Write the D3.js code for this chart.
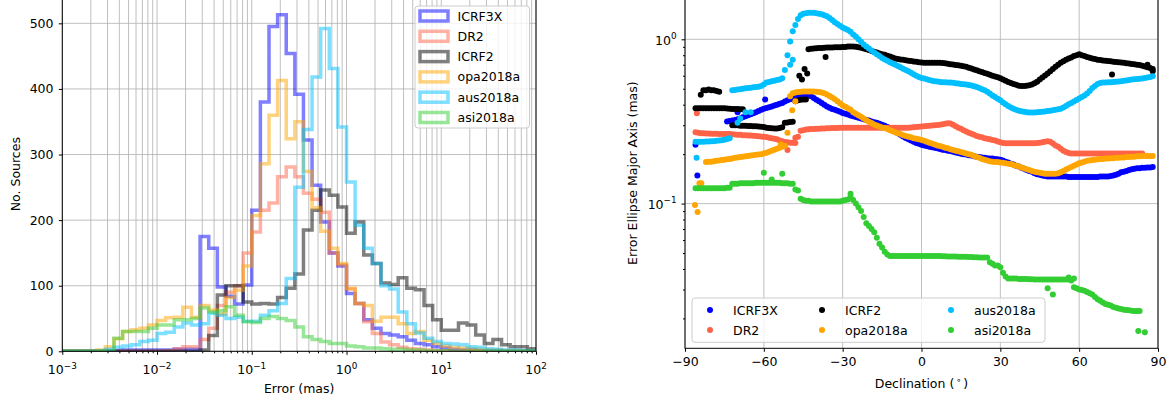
<!DOCTYPE html>
<html>
<head>
<meta charset="utf-8">
<script src="https://cdn.jsdelivr.net/npm/d3@7"></script>
<style>
body { margin: 0; background: #fff; }
svg text { font-family: "DejaVu Sans", sans-serif; fill: #000; }
</style>
</head>
<body>
<script>
// ---- data -----------------------------------------------------------
var seriesNames = ["ICRF3X", "DR2", "ICRF2", "opa2018a", "aus2018a", "asi2018a"];

// left panel: counts in 55 log bins from 1e-3 to 1e2 mas
var cntICRF3X = [0,0,0,0,0,0,1,2,2,2, 2,2,2,3,3,3,175,157,98,84, 72,101,215,380,495,513,454,392,322,253,
                 197,150,130,88,73,48,35,27,25,22, 17,12,10,7,5,3,2,2,1,1, 1,0,0,0,0];
var cntDR2    = [0,0,0,0,0,0,0,0,0,0, 0,0,1,4,7,7,18,35,70,90, 100,150,182,215,226,266,281,266,241,232,
                 212,150,132,95,73,45,27,14,10,6, 4,3,2,1,1,0,0,0,0,0, 0,0,0,0,0];
var cntICRF2  = [0,0,0,0,0,0,0,0,0,0, 0,0,0,0,0,0,2,24,86,100, 100,75,72,73,72,82,96,118,185,215,
                 246,238,220,180,197,147,134,104,102,112, 96,94,70,48,32,32,43,40,25,12, 18,10,7,7,4];
var cntOpa    = [0,0,0,0,2,7,19,30,33,35, 40,47,51,52,67,52,70,63,57,82, 93,130,207,286,360,413,324,350,274,219,
                 183,157,134,96,73,70,46,52,52,42, 27,30,17,12,8,6,5,4,3,2, 2,1,1,0,0];
var cntAus    = [0,0,0,0,0,3,6,8,10,15, 17,27,29,37,43,40,42,58,55,50, 52,46,46,55,62,73,111,250,338,418,
                 492,431,342,258,192,157,134,100,95,60, 42,28,20,15,12,11,10,7,6,4, 3,2,2,1,1];
var cntAsi    = [0,0,0,0,0,0,20,30,30,30, 35,40,40,48,48,50,66,60,62,68, 55,45,44,50,53,50,47,37,22,18,
                 15,12,12,8,7,5,5,4,3,3, 2,2,1,1,1,0,0,0,0,0, 0,0,0,0,0];

// right panel: error ellipse major axis (mas) against declination (deg)
var decl = [-86,-85,-84,-83,-82,-81,-80,-79,-78,-77,
            -76,-75,-74,-73,-72,-71,-70,-69,-68,-67,
            -66,-65,-64,-63,-62,-61,-60,-59,-58,-57,
            -56,-55,-54,-53,-52,-51,-50,-49,-48,-47,
            -46,-45,-44,-43,-42,-41,-40,-39,-38,-37,
            -36,-35,-34,-33,-32,-31,-30,-29,-28,-27,
            -26,-25,-24,-23,-22,-21,-20,-19,-18,-17,
            -16,-15,-14,-13,-12,-11,-10,-9,-8,-7,
            -6,-5,-4,-3,-2,-1,0,1,2,3,
            4,5,6,7,8,9,10,11,12,13,
            14,15,16,17,18,19,20,21,22,23,
            24,25,26,27,28,29,30,31,32,33,
            34,35,36,37,38,39,40,41,42,43,
            44,45,46,47,48,49,50,51,52,53,
            54,55,56,57,58,59,60,61,62,63,
            64,65,66,67,68,69,70,71,72,73,
            74,75,76,77,78,79,80,81,82,83,
            84,85,86,87,88];
var errICRF3X = [0.228,null,null,null,null,null,null,null,null,null,
                 null,null,0.316,0.318,0.32,0.323,0.326,0.33,0.335,0.34,
                 0.345,0.35,0.355,0.36,0.366,0.372,0.378,0.382,0.386,0.39,
                 0.395,0.40,0.405,0.41,0.418,0.425,0.432,0.44,0.445,0.448,
                 0.452,0.455,0.458,0.455,0.45,0.44,0.428,0.42,0.41,0.40,
                 0.39,0.383,0.377,0.372,0.367,0.362,0.356,0.352,0.348,0.344,
                 0.34,0.336,0.333,0.33,0.326,0.323,0.32,0.316,0.313,0.31,
                 0.306,0.302,0.298,0.293,0.287,0.281,0.275,0.268,0.262,0.256,
                 0.251,0.246,0.242,0.238,0.234,0.231,0.228,0.226,0.224,0.222,
                 0.22,0.219,0.217,0.215,0.213,0.212,0.21,0.209,0.207,0.205,
                 0.203,0.201,0.2,0.199,0.197,0.196,0.194,0.193,0.192,0.191,
                 0.19,0.189,0.188,0.188,0.187,0.186,0.185,0.183,0.18,0.178,
                 0.175,0.173,0.17,0.168,0.165,0.163,0.16,0.158,0.156,0.153,
                 0.151,0.15,0.148,0.147,0.146,0.146,0.146,0.146,0.146,0.146,
                 0.146,0.146,0.145,0.145,0.145,0.145,0.145,0.145,0.145,0.145,
                 0.145,0.145,0.145,0.145,0.146,0.146,0.146,0.146,0.147,0.148,
                 0.15,0.152,0.155,0.156,0.158,0.16,0.162,0.163,0.164,0.164,
                 0.165,0.165,0.166,0.166,0.167];
var errDR2 = [0.272,0.27,0.268,0.268,0.267,0.267,0.266,0.266,0.266,0.265,
              0.265,0.265,0.265,0.265,0.264,0.263,0.262,0.262,0.261,0.261,
              0.26,0.26,0.259,0.258,0.257,0.256,0.255,0.254,0.252,0.25,
              0.248,0.246,0.242,0.24,0.237,0.236,0.235,0.235,0.234,0.255,
              0.278,0.28,0.282,0.283,0.284,0.284,0.285,0.285,0.286,0.286,
              0.287,0.287,0.288,0.288,0.288,0.289,0.29,0.29,0.29,0.29,
              0.29,0.29,0.29,0.29,0.29,0.29,0.29,0.29,0.29,0.29,
              0.29,0.29,0.29,0.29,0.29,0.29,0.29,0.29,0.29,0.29,
              0.29,0.29,0.291,0.292,0.293,0.294,0.295,0.296,0.297,0.298,
              0.299,0.3,0.301,0.302,0.304,0.306,0.308,0.307,0.302,0.296,
              0.29,0.285,0.28,0.275,0.27,0.266,0.262,0.258,0.255,0.253,
              0.25,0.248,0.246,0.244,0.242,0.239,0.236,0.234,0.233,0.233,
              0.233,0.233,0.233,0.233,0.233,0.233,0.233,0.233,0.233,0.233,
              0.234,0.235,0.236,0.238,0.24,0.238,0.232,0.226,0.222,0.216,
              0.21,0.206,0.203,0.202,0.202,0.202,0.202,0.202,0.202,0.202,
              0.202,0.202,0.202,0.202,0.202,0.202,0.202,0.202,0.202,0.202,
              0.202,0.202,0.202,0.202,0.202,0.202,0.202,0.202,0.202,0.202,
              0.202,null,null,null,null];
var errICRF2 = [0.38,0.38,0.38,0.38,0.38,0.38,0.38,0.38,0.38,0.38,
                0.38,0.38,0.379,0.378,0.377,0.377,0.376,0.375,0.375,0.298,
                0.297,0.297,0.296,0.296,0.295,0.294,0.293,0.29,0.288,0.287,
                0.286,0.286,0.288,0.292,0.31,0.312,0.314,0.315,0.42,0.425,
                0.428,0.43,0.43,0.87,0.875,0.88,0.882,0.884,0.886,0.888,
                0.89,0.89,0.892,0.894,0.895,0.896,0.897,0.898,0.905,0.905,
                0.905,0.9,0.895,0.888,0.88,0.87,0.86,0.85,0.84,0.83,
                0.82,0.812,0.805,0.795,0.785,0.775,0.765,0.758,0.754,0.75,
                0.745,0.74,0.737,0.733,0.73,0.726,0.723,0.72,0.72,0.72,
                0.72,0.72,0.72,0.72,0.718,0.714,0.71,0.706,0.702,0.698,
                0.694,0.69,0.686,0.68,0.672,0.664,0.656,0.648,0.64,0.632,
                0.624,0.616,0.608,0.6,0.593,0.587,0.58,0.57,0.56,0.55,
                0.542,0.535,0.528,0.522,0.52,0.52,0.522,0.525,0.53,0.54,
                0.552,0.569,0.585,0.603,0.62,0.64,0.66,0.68,0.70,0.72,
                0.735,0.75,0.765,0.775,0.79,0.80,0.81,0.80,0.79,0.78,
                0.772,0.765,0.758,0.752,0.748,0.744,0.74,0.737,0.734,0.731,
                0.728,0.725,0.722,0.72,0.716,0.712,0.708,0.704,0.70,0.697,
                0.69,0.683,0.676,0.668,0.66];
var errOpa = [null,null,null,null,0.179,0.18,0.18,0.181,0.182,0.183,
              0.184,0.185,0.186,0.187,0.188,0.19,0.191,0.192,0.193,0.194,
              0.195,0.196,0.197,0.198,0.199,0.2,0.202,0.204,0.207,0.21,
              0.213,0.216,0.219,0.222,0.225,0.27,0.45,0.47,0.475,0.478,
              0.48,0.482,0.482,0.482,0.482,0.481,0.48,0.478,0.475,0.47,
              0.462,0.452,0.442,0.432,0.42,0.408,0.396,0.388,0.38,0.372,
              0.36,0.352,0.345,0.338,0.33,0.322,0.315,0.309,0.303,0.299,
              0.295,0.291,0.288,0.284,0.28,0.276,0.272,0.268,0.265,0.261,
              0.258,0.255,0.253,0.25,0.248,0.246,0.244,0.241,0.238,0.235,
              0.232,0.229,0.226,0.224,0.222,0.219,0.217,0.214,0.212,0.21,
              0.208,0.206,0.204,0.202,0.2,0.198,0.195,0.192,0.19,0.187,
              0.185,0.183,0.181,0.18,0.179,0.179,0.178,0.177,0.176,0.175,
              0.174,0.172,0.17,0.168,0.166,0.164,0.162,0.16,0.158,0.156,
              0.155,0.154,0.153,0.152,0.152,0.152,0.152,0.152,0.153,0.155,
              0.158,0.161,0.164,0.167,0.17,0.173,0.176,0.178,0.18,0.182,
              0.183,0.184,0.185,0.186,0.187,0.187,0.188,0.188,0.189,0.189,
              0.19,0.19,0.191,0.191,0.192,0.192,0.193,0.193,0.194,0.194,
              0.195,0.195,0.195,0.195,0.195];
var errAus = [0.238,0.238,0.238,0.238,0.239,0.239,0.24,0.24,0.241,0.242,
              0.243,0.245,0.247,0.25,0.49,0.492,0.494,0.497,0.50,0.503,
              0.505,0.508,0.51,0.512,0.515,0.52,0.53,0.545,0.55,0.555,
              0.56,0.565,0.57,0.58,0.65,0.80,0.97,1.12,1.22,1.33,
              1.40,1.43,1.44,1.45,1.45,1.45,1.44,1.43,1.42,1.40,
              1.38,1.35,1.31,1.27,1.24,1.21,1.18,1.16,1.14,1.11,
              1.07,1.04,1.0,0.965,0.93,0.905,0.88,0.855,0.83,0.81,
              0.79,0.77,0.754,0.74,0.725,0.712,0.70,0.688,0.675,0.662,
              0.65,0.638,0.625,0.613,0.60,0.59,0.582,0.578,0.572,0.566,
              0.56,0.556,0.553,0.55,0.548,0.547,0.546,0.545,0.543,0.541,
              0.538,0.535,0.532,0.53,0.527,0.523,0.518,0.512,0.505,0.497,
              0.49,0.48,0.468,0.455,0.445,0.435,0.425,0.413,0.402,0.393,
              0.385,0.378,0.372,0.368,0.365,0.362,0.36,0.359,0.358,0.359,
              0.36,0.361,0.362,0.364,0.366,0.368,0.37,0.372,0.375,0.378,
              0.385,0.393,0.402,0.41,0.418,0.427,0.436,0.445,0.455,0.468,
              0.485,0.505,0.52,0.535,0.542,0.545,0.546,0.547,0.548,0.549,
              0.551,0.553,0.556,0.559,0.562,0.565,0.569,0.571,0.573,0.575,
              0.578,0.581,0.585,0.59,0.595];
var errAsi = [0.124,0.124,0.124,0.124,0.124,0.124,0.124,0.124,0.124,0.124,
              0.124,0.124,0.125,0.125,0.132,0.132,0.132,0.133,0.133,0.133,
              0.133,0.133,0.133,0.134,0.134,0.134,0.134,0.134,0.134,0.134,
              0.134,0.134,0.134,0.133,0.133,0.133,0.132,0.132,0.122,0.12,
              0.107,0.105,0.104,0.104,0.103,0.103,0.103,0.103,0.103,0.103,
              0.103,0.103,0.103,0.103,0.103,0.103,0.104,0.105,0.106,0.11,
              0.105,0.1,0.095,0.09,0.083,0.076,0.073,0.07,0.067,0.062,
              0.057,0.054,0.051,0.049,0.048,0.048,0.048,0.048,0.048,0.048,
              0.048,0.048,0.048,0.048,0.048,0.048,0.048,0.048,0.048,0.048,
              0.048,0.048,0.048,0.048,0.0478,0.0478,0.0477,0.0477,0.0476,0.0476,
              0.0475,0.0475,0.0474,0.0474,0.0473,0.0473,0.0472,0.0472,0.047,0.047,
              0.047,0.047,0.044,0.043,0.042,0.042,0.041,0.038,0.036,0.035,
              0.035,0.035,0.035,0.0348,0.0348,0.0347,0.0347,0.0346,0.0346,0.0345,
              0.0345,0.0345,0.0345,0.0345,0.0345,0.0345,0.0345,0.0345,0.0345,0.0345,
              0.0345,0.0345,0.0345,0.034,0.031,0.0305,0.03,0.0298,0.0295,0.029,
              0.0285,0.028,0.027,0.0262,0.0256,0.025,0.0245,0.0242,0.024,0.0235,
              0.0232,0.023,0.0228,0.0226,0.0225,0.0224,0.0223,0.0222,0.0222,0.0222,
              null,null,null,null,null];

// scattered points off the main bands
var oddSeries = [0,0,0, 1,1,1,1,
                 2,2,2,2,2,2,2,2, 2,2,2,2,2, 2,2,2,2,2,2,2,2,
                 3,3,3,3,3,3,3, 4,4,4,4,4,4,4, 5,5,5,5,5,5,5,5,5,5];
var oddDecl   = [-85.3,-59.5,-70, -85.5,-52,-51,-48,
                 -84,-83,-82,-81,-80,-79,-78,-77, -72,-71,-70,-69,-68, -46.5,-45.5,-44.5,-43.5,-36.5,72.5,86,88,
                 -86.2,-85.2,-84.5,-83.8,-53.5,-49.2,-48, -85.6,-70,-69,-67,-65,-50,-49,
                 -60,-53,-57,-27,48,50,56,58,82.5,85];
var oddErr    = [0.148,0.43,0.36, 0.355,0.228,0.212,0.252,
                 0.46,0.49,0.49,0.495,0.49,0.49,0.485,0.48, 0.30,0.30,0.30,0.298,0.298, 0.6,0.57,0.66,0.62,0.78,0.61,0.7,0.64,
                 0.098,0.089,0.133,0.133,0.23,0.37,0.42, 0.19,0.31,0.33,0.36,0.36,0.7,0.75,
                 0.154,0.152,0.14,0.115,0.0305,0.028,0.0355,0.035,0.0168,0.0165];

var histCounts = [cntICRF3X, cntDR2, cntICRF2, cntOpa, cntAus, cntAsi];
var errSeries = [errICRF3X, errDR2, errICRF2, errOpa, errAus, errAsi];
var histColors = ["#0000ff", "#ff6347", "#000000", "#ffa500", "#00bfff", "#32cd32"];
var dotColors = ["#0000ff", "#ff6347", "#000000", "#ffa500", "#00bfff", "#32cd32"];

var svg = d3.select("body")
   .append("svg")
   .attr("width", 1173)
   .attr("height", 403);

var gridColor = "#b0b0b0";
var fs = 12.5;

function supLabel(sel, base, exp, x, y, anchor) {
    var t = sel.append("text")
       .attr("x", x)
       .attr("y", y)
       .attr("text-anchor", anchor)
       .style("font-size", fs + "px");
    t.append("tspan").text(base);
    t.append("tspan").attr("dy", -5.5).style("font-size", "8.8px").text(exp);
}

// ---- left panel: histograms ----------------------------------------
var L = { left: 62.3, right: 536, top: -2.9, bottom: 351.3 };
var nBins = 55;
var binEdges = d3.range(nBins + 1).map(function(k) { return Math.pow(10, -3 + 5 * k / nBins); });

var xL = d3.scaleLog().domain([1e-3, 1e2]).range([L.left, L.right]);
var yL = d3.scaleLinear().domain([0, 540]).range([L.bottom, L.top]);

var left = svg.append("g");

var defs = svg.append("defs");
defs.append("clipPath").attr("id", "clipL")
  .append("rect")
   .attr("x", L.left).attr("y", L.top)
   .attr("width", L.right - L.left).attr("height", L.bottom - L.top);
defs.append("clipPath").attr("id", "clipR")
  .append("rect")
   .attr("x", 685).attr("y", -2)
   .attr("width", 473).attr("height", 350.3);

var majorX = [1e-3, 1e-2, 1e-1, 1, 10, 100];
var majorExp = ["\u22123", "\u22122", "\u22121", "0", "1", "2"];
var minorX = [];
[-3, -2, -1, 0, 1].forEach(function(d) {
    for (var m = 2; m <= 9; m++) minorX.push(m * Math.pow(10, d));
});

// grid
left.selectAll("line.gx")
  .data(majorX.concat(minorX))
 .enter().append("line")
  .attr("x1", function(d) { return xL(d); })
  .attr("x2", function(d) { return xL(d); })
  .attr("y1", L.top).attr("y2", L.bottom)
  .style("stroke", gridColor).style("stroke-width", 0.8);
left.selectAll("line.gy")
  .data(d3.range(0, 501, 100))
 .enter().append("line")
  .attr("x1", L.left).attr("x2", L.right)
  .attr("y1", function(d) { return yL(d); })
  .attr("y2", function(d) { return yL(d); })
  .style("stroke", gridColor).style("stroke-width", 0.8);

function stepPoints(counts) {
    var pts = [[binEdges[0], 0]];
    counts.forEach(function(c, i) {
        pts.push([binEdges[i], c]);
        pts.push([binEdges[i + 1], c]);
    });
    pts.push([binEdges[nBins], 0]);
    return pts;
}

var stepLine = d3.line()
   .x(function(d) { return xL(d[0]); })
   .y(function(d) { return yL(d[1]); });

left.append("g").attr("clip-path", "url(#clipL)")
  .selectAll("path")
  .data(histCounts)
 .enter().append("path")
  .attr("d", function(d) { return stepLine(stepPoints(d)); })
  .style("fill", "none")
  .style("stroke", function(d, i) { return histColors[i]; })
  .style("stroke-opacity", 0.5)
  .style("stroke-width", 3.5)
  .style("stroke-linejoin", "miter");

// axes
left.append("g")
  .attr("transform", "translate(0," + L.bottom + ")")
  .call(d3.axisBottom(xL).tickValues(majorX).tickSize(3.5).tickSizeOuter(0).tickFormat(""))
  .call(function(g) { g.select(".domain").remove(); });
left.append("g")
  .attr("transform", "translate(0," + L.bottom + ")")
  .call(d3.axisBottom(xL).tickValues(minorX).tickSize(2).tickSizeOuter(0).tickFormat(""))
  .call(function(g) { g.select(".domain").remove(); });
left.append("g")
  .attr("transform", "translate(" + L.left + ",0)")
  .call(d3.axisLeft(yL).tickValues(d3.range(0, 501, 100)).tickSize(3.5).tickSizeOuter(0).tickFormat(""))
  .call(function(g) { g.select(".domain").remove(); });

majorX.forEach(function(v, i) {
    supLabel(left, "10", majorExp[i], xL(v), 374, "middle");
});
left.selectAll("text.yt")
  .data(d3.range(0, 501, 100))
 .enter().append("text")
  .attr("x", 53.5)
  .attr("y", function(d) { return yL(d) + 4.5; })
  .attr("text-anchor", "end")
  .style("font-size", fs + "px")
  .text(String);

left.append("rect")
  .attr("x", L.left).attr("y", L.top)
  .attr("width", L.right - L.left).attr("height", L.bottom - L.top)
  .style("fill", "none").style("stroke", "#000").style("stroke-width", 1);

left.append("text")
  .attr("x", (L.left + L.right) / 2).attr("y", 393)
  .attr("text-anchor", "middle")
  .style("font-size", fs + "px")
  .text("Error (mas)");
left.append("text")
  .attr("transform", "translate(19.5," + ((L.top + L.bottom) / 2) + ") rotate(-90)")
  .attr("text-anchor", "middle")
  .style("font-size", fs + "px")
  .text("No. Sources");

// legend
var legL = left.append("g");
legL.append("rect")
  .attr("x", 415).attr("y", 6).attr("width", 114.5).attr("height", 122).attr("rx", 3)
  .style("fill", "#fff").style("fill-opacity", 0.8)
  .style("stroke", "#cccccc").style("stroke-width", 1);
seriesNames.forEach(function(name, i) {
    var cy = 16 + i * 20.3;
    legL.append("rect")
      .attr("x", 420).attr("y", cy - 5).attr("width", 28).attr("height", 10)
      .style("fill", "none").style("stroke", histColors[i])
      .style("stroke-opacity", 0.5).style("stroke-width", 3.5);
    legL.append("text")
      .attr("x", 457.5).attr("y", cy + 4.5)
      .style("font-size", fs + "px")
      .text(name);
});

// ---- right panel: scatter -----------------------------------------
var R = { left: 685, right: 1158, top: -2, bottom: 348.3 };
var xR = d3.scaleLinear().domain([-90, 90]).range([R.left, R.right]);
var yR = d3.scaleLog().domain([0.01316, 1.784]).range([R.bottom, R.top]);

var right = svg.append("g");
var decTicks = [-90, -60, -30, 0, 30, 60, 90];

right.selectAll("line.gx")
  .data(decTicks)
 .enter().append("line")
  .attr("x1", function(d) { return xR(d); })
  .attr("x2", function(d) { return xR(d); })
  .attr("y1", R.top).attr("y2", R.bottom)
  .style("stroke", gridColor).style("stroke-width", 0.8);
right.selectAll("line.gy")
  .data([0.1, 1])
 .enter().append("line")
  .attr("x1", R.left).attr("x2", R.right)
  .attr("y1", function(d) { return yR(d); })
  .attr("y2", function(d) { return yR(d); })
  .style("stroke", gridColor).style("stroke-width", 0.8);

var pointSets = errSeries.map(function(vals, s) {
    var pts = [];
    vals.forEach(function(v, i) { if (v !== null) pts.push([decl[i], v]); });
    oddSeries.forEach(function(os, j) { if (os === s) pts.push([oddDecl[j], oddErr[j]]); });
    return pts;
});

var dots = right.append("g").attr("clip-path", "url(#clipR)");
pointSets.forEach(function(pts, s) {
    dots.append("g")
      .selectAll("circle")
      .data(pts)
     .enter().append("circle")
      .attr("cx", function(d) { return xR(d[0]); })
      .attr("cy", function(d) { return yR(d[1]); })
      .attr("r", 3)
      .style("fill", dotColors[s]);
});

var minorY = [];
[-2, -1].forEach(function(d) {
    for (var m = 2; m <= 9; m++) minorY.push(m * Math.pow(10, d));
});

right.append("g")
  .attr("transform", "translate(0," + R.bottom + ")")
  .call(d3.axisBottom(xR).tickValues(decTicks).tickSize(3.5).tickSizeOuter(0)
        .tickFormat(function(d) { return d < 0 ? "\u2212" + (-d) : String(d); }))
  .call(function(g) {
      g.select(".domain").remove();
      g.selectAll("text").attr("y", 9.3).attr("dy", "0.71em")
        .style("font-size", fs + "px").style("font-family", "DejaVu Sans");
  });
right.append("g")
  .attr("transform", "translate(" + R.left + ",0)")
  .call(d3.axisLeft(yR).tickValues([0.1, 1]).tickSize(3.5).tickSizeOuter(0).tickFormat(""))
  .call(function(g) { g.select(".domain").remove(); });
right.append("g")
  .attr("transform", "translate(" + R.left + ",0)")
  .call(d3.axisLeft(yR).tickValues(minorY).tickSize(2).tickSizeOuter(0).tickFormat(""))
  .call(function(g) { g.select(".domain").remove(); });

supLabel(right, "10", "0", 676.5, yR(1) + 5.2, "end");
supLabel(right, "10", "\u22121", 676.5, yR(0.1) + 5.2, "end");

right.append("rect")
  .attr("x", R.left).attr("y", R.top)
  .attr("width", R.right - R.left).attr("height", R.bottom - R.top)
  .style("fill", "none").style("stroke", "#000").style("stroke-width", 1);

var xlab = right.append("text")
  .attr("x", (R.left + R.right) / 2).attr("y", 388)
  .attr("text-anchor", "middle")
  .style("font-size", fs + "px");
xlab.append("tspan").text("Declination (");
xlab.append("tspan").attr("dy", -5).style("font-size", "8.8px").text("\u2009\u2218\u2009");
xlab.append("tspan").attr("dy", 5).text(")");

right.append("text")
  .attr("transform", "translate(636.5," + ((R.top + R.bottom) / 2) + ") rotate(-90)")
  .attr("text-anchor", "middle")
  .style("font-size", fs + "px")
  .text("Error Ellipse Major Axis (mas)");

// legend, three columns
var legR = right.append("g");
legR.append("rect")
  .attr("x", 692).attr("y", 298).attr("width", 353).attr("height", 44.3).attr("rx", 3)
  .style("fill", "#fff").style("fill-opacity", 0.8)
  .style("stroke", "#cccccc").style("stroke-width", 1);
var colX = [710, 822, 951];
seriesNames.forEach(function(name, i) {
    var col = Math.floor(i / 2), row = i % 2;
    var cy = 310 + row * 20;
    legR.append("circle")
      .attr("cx", colX[col]).attr("cy", cy).attr("r", 3)
      .style("fill", dotColors[i]);
    legR.append("text")
      .attr("x", colX[col] + 23).attr("y", cy + 4.5)
      .style("font-size", fs + "px")
      .text(name);
});
</script>
</body>
</html>
